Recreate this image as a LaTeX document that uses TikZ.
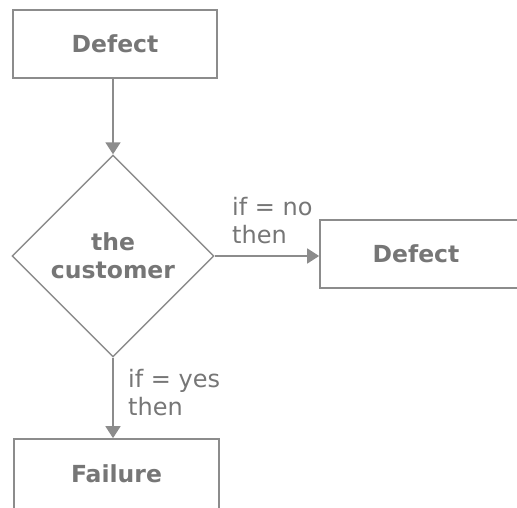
\documentclass[tikz,border=0pt]{standalone}
\usepackage{fontspec}
\setmainfont{DejaVu Sans}
\usetikzlibrary{shapes.geometric,arrows.meta}
\definecolor{linegray}{HTML}{8C8C8C}
\definecolor{textgray}{HTML}{767676}
\tikzset{
  stepbox/.style={draw=linegray,line width=1.7pt,rectangle,inner sep=0pt,
    font=\fontsize{23.5}{28}\selectfont\bfseries,text=textgray},
  choice/.style={draw=linegray,line width=1.4pt,diamond,aspect=1,inner sep=0pt,
    minimum size=202pt,align=center,font=\fontsize{23.5}{28}\selectfont\bfseries,text=textgray},
  flow/.style={draw=linegray,line width=1.7pt,-{Triangle[length=12pt,width=15pt]}},
  cond/.style={align=left,inner sep=0pt,font=\fontsize{24}{28}\selectfont,text=textgray}
}
\begin{document}
\begin{tikzpicture}[x=1pt,y=-1pt]
\useasboundingbox (0,0) rectangle (517,508);
\node[stepbox,minimum width=204pt,minimum height=68pt] (defect) at (115,44) {Defect};
\node[choice] (customer) at (113,256) {the\\customer};
\node[stepbox,minimum width=204pt,minimum height=68pt] (defectb) at (422,254) {Defect\kern12pt};
\node[stepbox,minimum width=205pt,minimum height=70pt] (failure) at (116.5,474) {Failure};
\draw[flow] (defect.south -| customer.north) -- (customer.north);
\draw[flow] (customer.east) -- (customer.east -| defectb.west);
\draw[flow] (customer.south) -- (customer.south |- failure.north);
\node[cond,anchor=north west] (nolabel) at (232,197) {if = no\\then};
\node[cond,anchor=north west] (yeslabel) at (128,369) {if = yes\\then};
\end{tikzpicture}
\end{document}
